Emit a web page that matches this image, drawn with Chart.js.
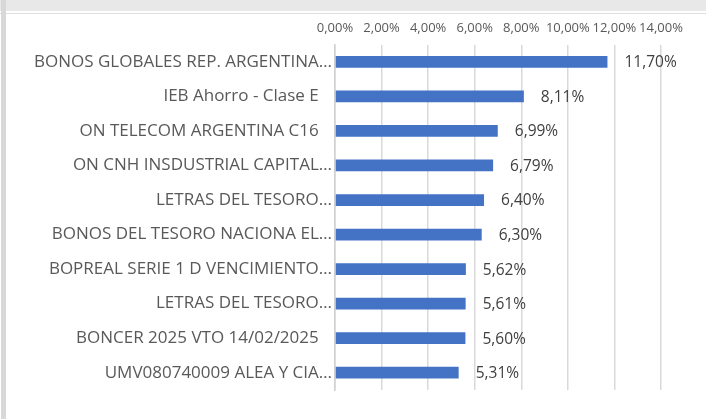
<!DOCTYPE html>
<html>
<head>
<meta charset="utf-8">
<script src="https://cdn.jsdelivr.net/npm/chart.js@4.4.1/dist/chart.umd.min.js"></script>
<style>
  html, body { margin: 0; padding: 0; background: #ffffff; }
  #wrap { position: relative; width: 706px; height: 419px; overflow: hidden; }
  #topband { position: absolute; left: 0; top: 0; width: 706px; height: 11px; background: #e8e8e8; }
  #topline { position: absolute; left: 0; top: 13px; width: 706px; height: 1px; background: #dedede; }
  #leftstrip { position: absolute; left: 1px; top: 0; width: 5px; height: 419px; background: #d8d8d8; }
  canvas { position: absolute; left: 0; top: 0; }
</style>
</head>
<body>
<div id="wrap">
  <div id="topband"></div>
  <div id="topline"></div>
  <div id="leftstrip"></div>
  <canvas id="c" width="706" height="419"></canvas>
</div>
<script>
const categories = [
  "BONOS GLOBALES REP. ARGENTINA\u2026",
  "IEB Ahorro - Clase E   ",
  "ON TELECOM ARGENTINA C16   ",
  "ON CNH INSDUSTRIAL CAPITAL\u2026",
  "LETRAS DEL TESORO\u2026",
  "BONOS DEL TESORO NACIONA EL\u2026",
  "BOPREAL SERIE 1 D VENCIMIENTO\u2026",
  "LETRAS DEL TESORO\u2026",
  "BONCER 2025 VTO 14/02/2025   ",
  "UMV080740009 ALEA Y CIA\u2026"
];
const values = [11.70, 8.11, 6.99, 6.79, 6.40, 6.30, 5.62, 5.61, 5.60, 5.31];
const axisMin = 0;
const axisMax = 14;
const axisStep = 2;

const fmt = v => Number(v).toFixed(2).replace('.', ',') + '%';
const FONT = "'Open Sans', 'DejaVu Sans', sans-serif";

const dataLabels = {
  id: 'dataLabels',
  afterDatasetsDraw(chart) {
    const ctx = chart.ctx;
    const meta = chart.getDatasetMeta(0);
    ctx.save();
    ctx.font = "15.5px " + FONT;
    ctx.fillStyle = '#404040';
    ctx.textAlign = 'left';
    ctx.textBaseline = 'middle';
    meta.data.forEach((bar, i) => {
      ctx.fillText(fmt(values[i]), bar.x + 17, bar.y + 1);
    });
    ctx.restore();
  }
};

new Chart(document.getElementById('c'), {
  type: 'bar',
  data: {
    labels: categories,
    datasets: [{
      data: values,
      backgroundColor: '#4472c4',
      borderWidth: 0,
      categoryPercentage: 1,
      barPercentage: 0.34
    }]
  },
  options: {
    indexAxis: 'y',
    responsive: false,
    animation: false,
    devicePixelRatio: 1,
    layout: { padding: { left: 0, right: 45, top: 11, bottom: 29 } },
    plugins: {
      legend: { display: false },
      tooltip: { enabled: false }
    },
    scales: {
      x: {
        position: 'top',
        min: axisMin,
        max: axisMax,
        ticks: {
          stepSize: axisStep,
          callback: v => fmt(v),
          color: '#595959',
          font: { family: FONT, size: 13 },
          padding: 9,
          maxRotation: 0,
          autoSkip: false
        },
        grid: { color: '#d9d9d9', lineWidth: 1.5, drawTicks: false },
        border: { display: false }
      },
      y: {
        ticks: {
          color: '#595959',
          font: { family: FONT, size: 17 },
          padding: 3,
          autoSkip: false
        },
        grid: { display: false, drawTicks: false },
        border: { display: true, color: '#d0d0d0', width: 1.5 },
        afterFit(scale) { scale.width = 335; }
      }
    }
  },
  plugins: [dataLabels]
});
</script>
</body>
</html>
